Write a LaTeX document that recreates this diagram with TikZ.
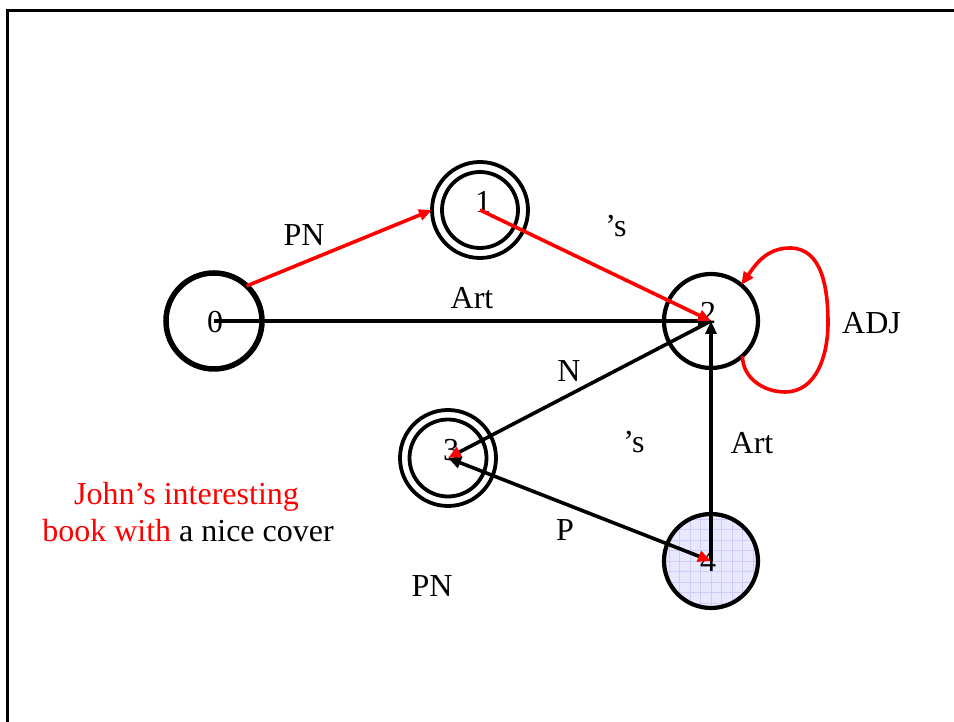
\documentclass[tikz,border=0pt]{standalone}
\usepackage{fontspec}
\setmainfont{Liberation Serif}
\usetikzlibrary{arrows.meta}
\definecolor{pptred}{RGB}{255,0,0}
\definecolor{lav}{RGB}{232,232,255}
\definecolor{lavgrid}{RGB}{205,205,248}
\begin{document}
\begin{tikzpicture}[x=1pt,y=1pt,
  txt/.style={font=\fontsize{32}{38}\selectfont, inner sep=0pt},
  lbl/.style={txt, anchor=base},
  digit/.style={txt, anchor=center},
  state/.style={circle, draw, inner sep=0pt, outer sep=0pt, minimum size=#1},
  edge/.style={line width=3.6pt},
  tip/.style={-{Triangle[length=13pt,width=11pt]}},
  redtip/.style={-{Triangle[length=13pt,width=11pt,color=pptred,fill=pptred]}},
  frame/.style={line width=3.5pt, line cap=rect},
]
\useasboundingbox (0,0) rectangle (954,722);
% frame
\coordinate (fb) at (7.5,0);
\coordinate (fc) at (7.5,711.5);
\coordinate (fr) at (954,711.5);
\draw[frame] (fb) -- (fc) -- (fr);

% states
\node[state=96pt, line width=5.5pt] (n0) at (214,401) {};
\node[state=96pt, line width=3.8pt] (n1) at (480,512) {};
\node[state=76pt, line width=3.8pt] (n1i) at (480,512) {};
\node[state=94pt, line width=4.2pt] (n2) at (711,401) {};
\node[state=96pt, line width=3.8pt] (n3) at (448,264) {};
\node[state=77pt, line width=3.8pt] (n3i) at (448,264) {};
\node[state=94pt, line width=4.2pt, fill=lav,
  path picture={\draw[lavgrid, line width=0.6pt, step=10.5pt]
    (path picture bounding box.south west) grid (path picture bounding box.north east);}] (n4) at (711,161) {};

% digits
\node[digit] (l0) at (215,400) {0};
\node[digit] (l1) at (483,520) {1};
\node[digit] (l2) at (708,409) {2};
\node[digit] (l3) at (451,272) {3};
\node[digit] (l4) at (708,161) {4};

% black edges
\draw[edge, tip] (n0.center) -- (n2.center);
\draw[edge, tip] (n4.center) -- (n2.center);
\draw[edge, redtip] (n2.center) -- (n3.center);
\draw[edge, {Triangle[length=13pt,width=11pt]}-{Triangle[length=13pt,width=11pt,color=pptred,fill=pptred]}] (n3.center) -- (n4.center);

% red edges
\draw[edge, pptred, tip] (n0.47) -- (n1.180);
\draw[edge, pptred, tip] (n1.center) -- (n2.center);
\coordinate (a1) at (785,330);
\coordinate (a2) at (828,399);
\coordinate (a3) at (790,474);
\draw[edge, pptred, tip] (n2.-48) to[out=-90,in=180] (a1) to[out=0,in=-90] (a2)
  to[out=90,in=0] (a3) to[out=180,in=55] (n2.50);

% labels
\node[lbl] (pn1) at (304,476) {PN};
\node[lbl] (s1) at (616,485) {’s};
\node[lbl] (art1) at (472,413) {Art};
\node[lbl] (adj) at (871.5,388) {ADJ};
\node[lbl] (nn) at (569,340) {N};
\node[lbl] (s2) at (634,269) {’s};
\node[lbl] (art2) at (752,268) {Art};
\node[lbl] (pp) at (565,181) {P};
\node[lbl] (pn2) at (432,125) {PN};

% sentence
\node[lbl, pptred] (t1) at (186.5,217) {John’s interesting};
\node[lbl] (t2) at (188,180) {\textcolor{pptred}{book with} a nice cover};
\end{tikzpicture}
\end{document}
